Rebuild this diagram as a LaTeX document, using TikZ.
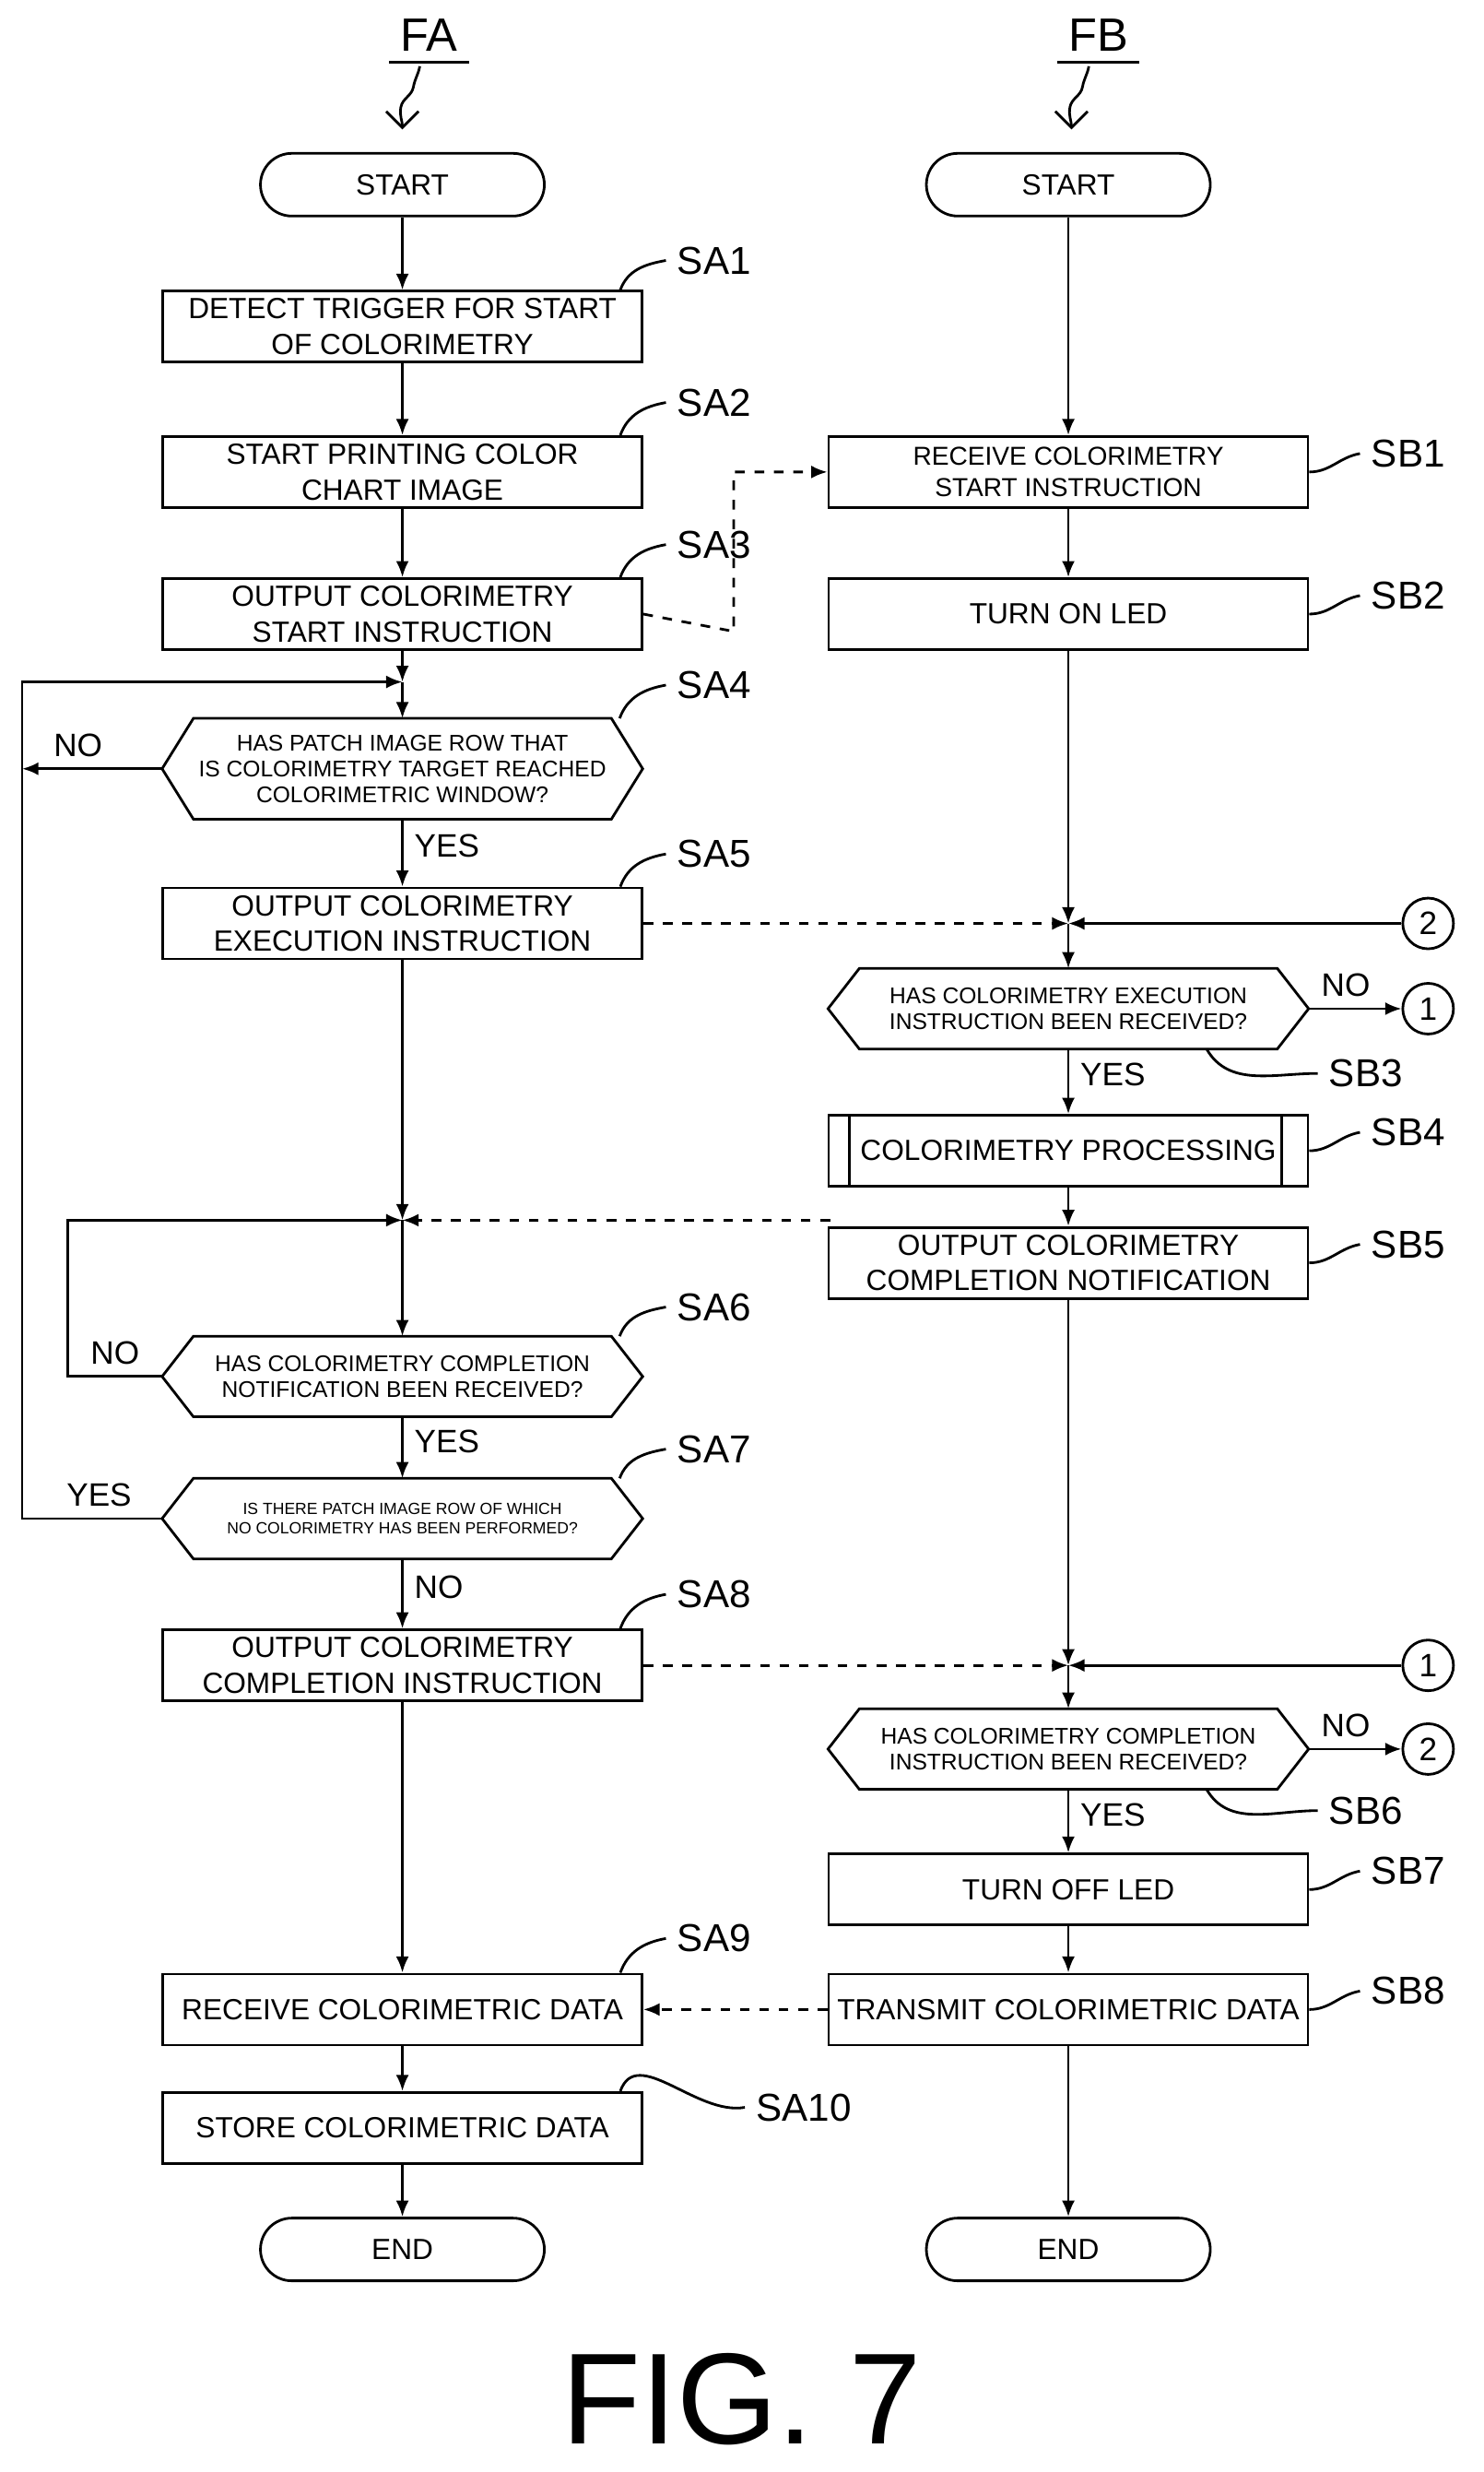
\documentclass[tikz,border=0pt]{standalone}
\usepackage{fontspec}
\setmainfont{Liberation Sans}
\usetikzlibrary{arrows.meta}
\tikzset{
  box/.style={draw,thick,minimum width=5.2cm,minimum height=0.77cm,align=center,font=\small,inner sep=1pt},
  term/.style={draw,thick,rounded corners=0.34cm,minimum width=3.08cm,minimum height=0.68cm,font=\small},
  hexa/.style={minimum width=5.2cm,minimum height=0.86cm,align=center,font=\scriptsize,inner sep=1pt},
  steplab/.style={font=\large},
  conn/.style={draw,thick,circle,minimum size=0.55cm,inner sep=0pt,font=\normalsize},
  flow/.style={thick,-{Latex[length=5pt,width=4pt]}},
  sig/.style={thick,dashed,-{Latex[length=5pt,width=4pt]}}
}
\begin{document}
\begin{tikzpicture}[x=0.01712cm,y=-0.01712cm]
\useasboundingbox (0,0) rectangle (940,1566);
% left flow
\node[term] (sa0) at (255,117) {START};
\node[box] (sa1) at (255,207) {DETECT TRIGGER FOR START\\OF COLORIMETRY};
\node[box] (sa2) at (255,299) {START PRINTING COLOR\\CHART IMAGE};
\node[box] (sa3) at (255,389) {OUTPUT COLORIMETRY\\START INSTRUCTION};
\node[hexa,minimum height=1.08cm] (sa4) at (255,487) {HAS PATCH IMAGE ROW THAT\\IS COLORIMETRY TARGET REACHED\\COLORIMETRIC WINDOW?};
\node[box] (sa5) at (255,585) {OUTPUT COLORIMETRY\\EXECUTION INSTRUCTION};
\node[hexa] (sa6) at (255,872) {HAS COLORIMETRY COMPLETION\\NOTIFICATION BEEN RECEIVED?};
\node[hexa,font=\tiny] (sa7) at (255,962) {IS THERE PATCH IMAGE ROW OF WHICH\\NO COLORIMETRY HAS BEEN PERFORMED?};
\node[box] (sa8) at (255,1055) {OUTPUT COLORIMETRY\\COMPLETION INSTRUCTION};
\node[box] (sa9) at (255,1273) {RECEIVE COLORIMETRIC DATA};
\node[box] (sa10) at (255,1348) {STORE COLORIMETRIC DATA};
\node[term] (sae) at (255,1425) {END};
% right flow
\node[term] (sb0) at (677,117) {START};
\node[box,font=\footnotesize] (sb1) at (677,299) {RECEIVE COLORIMETRY\\START INSTRUCTION};
\node[box] (sb2) at (677,389) {TURN ON LED};
\node[hexa] (sb3) at (677,639) {HAS COLORIMETRY EXECUTION\\INSTRUCTION BEEN RECEIVED?};
\node[box] (sb4) at (677,729) {COLORIMETRY PROCESSING};
\node[box] (sb5) at (677,800) {OUTPUT COLORIMETRY\\COMPLETION NOTIFICATION};
\node[hexa] (sb6) at (677,1108) {HAS COLORIMETRY COMPLETION\\INSTRUCTION BEEN RECEIVED?};
\node[box] (sb7) at (677,1197) {TURN OFF LED};
\node[box] (sb8) at (677,1273) {TRANSMIT COLORIMETRIC DATA};
\node[term] (sbe) at (677,1425) {END};
\foreach \n in {sa4,sa6,sa7,sb3,sb6}
  \draw[thick] (\n.west) -- ([xshift=0.34cm]\n.north west) -- ([xshift=-0.34cm]\n.north east)
    -- (\n.east) -- ([xshift=-0.34cm]\n.south east) -- ([xshift=0.34cm]\n.south west) -- cycle;
\draw[thick] ([xshift=0.24cm]sb4.north west) -- ([xshift=0.24cm]sb4.south west)
  ([xshift=-0.3cm]sb4.north east) -- ([xshift=-0.3cm]sb4.south east);
% merge points and connectors
\coordinate (ma) at (255,432);
\coordinate (mb) at (255,773);
\coordinate (mc) at (677,585);
\coordinate (md) at (677,1055);
\coordinate (la) at (14,487);
\node[conn] (c2a) at (905,585) {2};
\node[conn] (c1a) at (905,639) {1};
\node[conn] (c1b) at (905,1055) {1};
\node[conn] (c2b) at (905,1108) {2};
\foreach \a/\b in {sa0/sa1,sa1/sa2,sa2/sa3,sa8/sa9,sa9/sa10,sa10/sae,sb0/sb1,sb1/sb2,sb4/sb5,sb7/sb8,sb8/sbe}
  \draw[flow] (\a) -- (\b);
\draw[flow] (sa3) -- (ma);
\draw[flow] (ma) -- (sa4);
\draw[flow] (sa4) -- node[right,pos=0.4]{YES} (sa5);
\draw[flow] (sa5) -- (mb);
\draw[flow] (mb) -- (sa6);
\draw[flow] (sa6) -- node[right,pos=0.4]{YES} (sa7);
\draw[flow] (sa7) -- node[right,pos=0.4]{NO} (sa8);
\draw[flow] (sa4.west) -- node[above,pos=0.6]{NO} (la);
\draw[flow] (sa6.west) -- node[above,pos=0.5]{NO} (43,872) -- (43,773) -- (mb);
\draw[flow] (sa7.west) -- node[above,pos=0.45]{YES} (14,962) -- (14,432) -- (ma);
\draw[flow] (sb2) -- (mc);
\draw[flow] (c2a) -- (mc);
\draw[flow] (mc) -- (sb3);
\draw[flow] (sb3) -- node[right,pos=0.4]{YES} (sb4);
\draw[flow] (sb3.east) -- node[above,pos=0.4]{NO} (c1a);
\draw[flow] (sb5) -- (md);
\draw[flow] (c1b) -- (md);
\draw[flow] (md) -- (sb6);
\draw[flow] (sb6) -- node[right,pos=0.4]{YES} (sb7);
\draw[flow] (sb6.east) -- node[above,pos=0.4]{NO} (c2b);
\draw[sig] (sa3.east) -- (465,400) -- (465,299) -- (sb1.west);
\draw[sig] (sa5.east) -- (mc);
\draw[sig] (526,773) -- (mb);
\draw[sig] (sa8.east) -- (md);
\draw[sig] (sb8.west) -- (sa9.east);
% step labels
\foreach \n/\t/\x/\y in {sa1/SA1/422/165,sa2/SA2/422/255,sa3/SA3/422/345,sa4/SA4/422/434,
    sa5/SA5/422/541,sa6/SA6/422/828,sa7/SA7/422/918,sa8/SA8/422/1010,sa9/SA9/422/1228,sa10/SA10/472/1335}
{
  \node[steplab,anchor=west] (l\n) at (\x,\y) {\t};
  \draw[thick] (l\n.west) to[out=190,in=70] ([xshift=-0.25cm]\n.north east);
}
\foreach \n/\t in {sb1/SB1,sb2/SB2,sb4/SB4,sb5/SB5,sb7/SB7,sb8/SB8}
{
  \node[steplab,anchor=west] (l\n) at ([xshift=0.55cm,yshift=0.2cm]\n.east) {\t};
  \draw[thick] (l\n.west) to[out=190,in=0] (\n.east);
}
\node[steplab,anchor=west] (lsb3) at (835,680) {SB3};
\draw[thick] (lsb3.west) to[out=180,in=-60] ([xshift=1.5cm]sb3.south);
\node[steplab,anchor=west] (lsb6) at (835,1147) {SB6};
\draw[thick] (lsb6.west) to[out=180,in=-60] ([xshift=1.5cm]sb6.south);
% titles
\node[steplab,font=\Large] (fa) at (272,22) {FA};
\node[steplab,font=\Large] (fb) at (696,22) {FB};
\draw[thick] (fa.south west) -- (fa.south east);
\draw[thick] (fb.south west) -- (fb.south east);
\draw[thick,-{Straight Barb[length=5pt]}] (266,42) to[out=-100,in=80] (262,55) to[out=-100,in=80] (254,68) to[out=-100,in=90] (255,82);
\draw[thick,-{Straight Barb[length=5pt]}] (690,42) to[out=-100,in=80] (686,55) to[out=-100,in=80] (678,68) to[out=-100,in=90] (679,82);
\node[font=\fontsize{40}{44}\selectfont] (fig) at (470,1520) {FIG. 7};
\end{tikzpicture}
\end{document}
